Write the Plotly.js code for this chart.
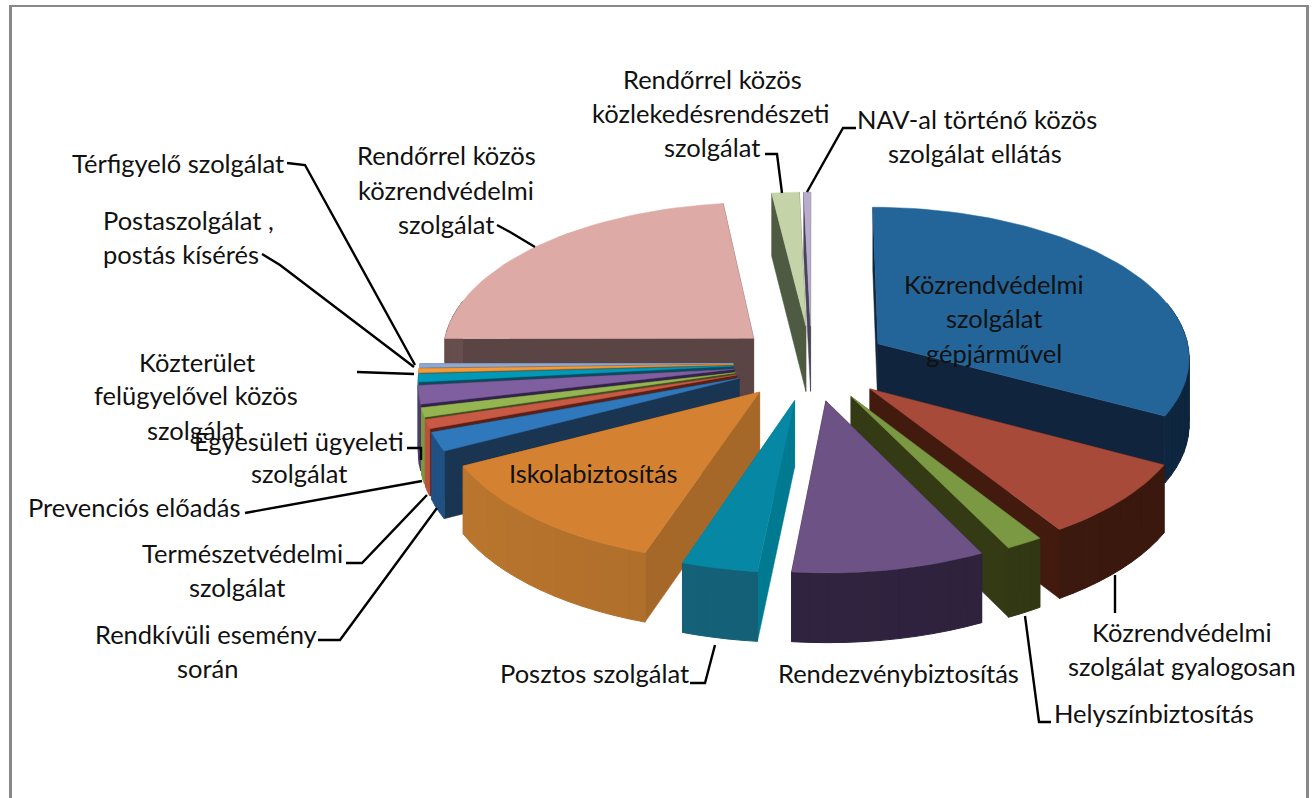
<!DOCTYPE html>
<html><head><meta charset="utf-8">
<script src="https://cdn.plot.ly/plotly-3.0.1.min.js"></script>
<style>html,body{margin:0;padding:0;background:#fff}</style></head>
<body><div id="chart" style="width:1313px;height:798px"></div>
<script>
// ---- data (clockwise from 12 o'clock) ----
var categories = ["Közrendvédelmi szolgálat gépjárművel","Közrendvédelmi szolgálat gyalogosan","Helyszínbiztosítás","Rendezvénybiztosítás","Posztos szolgálat","Iskolabiztosítás","Rendkívüli esemény során","Természetvédelmi szolgálat","Prevenciós előadás","Egyesületi ügyeleti szolgálat","Közterület felügyelővel közös szolgálat","Postaszolgálat , postás kísérés","Térfigyelő szolgálat","Rendőrrel közös közrendvédelmi szolgálat","Rendőrrel közös közlekedésrendészeti szolgálat","NAV-al történő közös szolgálat ellátás"];
var values = [32.78,8.1,1.73,9.0,3.53,12.3,1.98,0.97,0.97,1.94,0.83,0.42,0.42,23.05,1.56,0.39];
// ---- styles ----
var topColors  = ["#236599","#a74a39","#7b9842","#6c5285","#0688a4","#d48232","#2f78bb","#c85a45","#95b550","#7f5f9f","#0099b8","#f59a3a","#8fa8d0","#deaaa5","#c4d4a8","#b8aecb"];
var wallColors = ["#10243d","#421a0e","#333a14","#2e2140","#007a90","#a66828","#193552","#5a2015","#3d5020","#33224a","#0d4a5e","#8a5a20","#556680","#5a4444","#4f5a42","#4a4458"];
var rimColors  = ["#0f2a45","#3f1a0f","#333a14","#30233f","#145f75","#ab6c2a","#1d4a78","#a84a38","#6f8a3a","#4a3560","#0a6a80","#b87028","#6f88a8","#5a4444","#4f5a42","#4a4458"];
var labelLines = [
 ["Közrendvédelmi",994,284],["szolgálat",994,318],["gépjárművel",994,353],
 ["Közrendvédelmi",1182,632],["szolgálat gyalogosan",1182,666],
 ["Helyszínbiztosítás",1154,713],
 ["Rendezvénybiztosítás",898,673],
 ["Posztos szolgálat",594,673],
 ["Iskolabiztosítás",593,473],
 ["Rendkívüli esemény",206,634],["során",207,668],
 ["Természetvédelmi",242,553],["szolgálat",237,587],
 ["Prevenciós előadás",134,507],
 ["Egyesületi ügyeleti",299,441],["szolgálat",299,473],
 ["Közterület",197,362],["felügyelővel közös",196,395],["szolgálat",195,430],
 ["Postaszolgálat ,",188,220],["postás kísérés",181,254],
 ["Térfigyelő szolgálat",178,163],
 ["Rendőrrel közös",446,155],["közrendvédelmi",446,190],["szolgálat",446,224],
 ["Rendőrrel közös",712,79],["közlekedésrendészeti",711,113],["szolgálat",712,147],
 ["NAV-al történő közös",977,119],["szolgálat ellátás",975,153]
];
var leaders = [
 [[287,305,415],[163,165,365]],
 [[262,280,414],[254,265,367]],
 [[357,414],[372,374]],
 [[407,421,421],[448,448,460]],
 [[245,422],[513,481]],
 [[346,362,427],[563,563,495]],
 [[318,340,437],[640,640,508]],
 [[690,705,715],[683,683,645]],
 [[1025,1039,1051],[616,722,722]],
 [[1115,1115],[575,613]],
 [[497,510,535],[225,232,247]],
 [[765,777,782],[154,154,193]],
 [[856,843,807],[128,128,192]]
];
// ---- projection ----
var CX=811.5,CY=363,RX=313,A=151,D=66,P=12,EXPLODE=0.25;
var rad=Math.PI/180;
var total=values.reduce(function(a,b){return a+b;},0);
function shade(hex,f){var n=parseInt(hex.slice(1),16);
 var c=[n>>16,(n>>8)&255,n&255].map(function(v){return Math.max(0,Math.min(255,Math.round(v*f)));});
 return "rgb("+c.join(",")+")";}
var slices=[],acc=0;
values.forEach(function(v,i){var a0=acc/total*360;acc+=v;var a1=acc/total*360;
 slices.push({i:i,a0:a0,a1:a1,m:(a0+a1)/2});});
function pt(s,th,r,z){
 var u=Math.sin(th*rad)*r+EXPLODE*Math.sin(s.m*rad);
 var v=Math.cos(th*rad)*r+EXPLODE*Math.cos(s.m*rad);
 var k=P/(P+v);
 return [CX+RX*u*k, CY-A*v*k+D*z*Math.sqrt(k)];
}
var traces=[];
function poly(pts,color,lw){
 pts=pts.concat([pts[0]]);
 traces.push({type:"scatter",mode:"lines",x:pts.map(function(p){return p[0];}),y:pts.map(function(p){return p[1];}),
  fill:"toself",fillcolor:color,line:{color:color,width:lw},hoverinfo:"skip",showlegend:false});
}
function line(xs,ys){
 traces.push({type:"scatter",mode:"lines",x:xs,y:ys,line:{color:"#000",width:2.4},hoverinfo:"skip",showlegend:false});
}
var order=slices.slice().sort(function(a,b){return Math.cos(b.m*rad)-Math.cos(a.m*rad);});
order.forEach(function(s){
 var w=wallColors[s.i], r=rimColors[s.i];
 poly([pt(s,s.a0,0,0),pt(s,s.a0,1,0),pt(s,s.a0,1,1),pt(s,s.a0,0,1)],w,0.5);
 poly([pt(s,s.a1,0,0),pt(s,s.a1,1,0),pt(s,s.a1,1,1),pt(s,s.a1,0,1)],w,0.5);
 var n=Math.max(1,Math.ceil((s.a1-s.a0)/3));
 for(var j=0;j<n;j++){
  var t0=s.a0+(s.a1-s.a0)*j/n,t1=s.a0+(s.a1-s.a0)*(j+1)/n,tm=(t0+t1)/2;
  if(tm<75||tm>285) continue;
  poly([pt(s,t0,1,0),pt(s,t1,1,0),pt(s,t1,1,1),pt(s,t0,1,1)],shade(r,1+(tm-180)/700),1);
 }
 var top=[pt(s,s.a0,0,0)];
 var m=Math.max(2,Math.ceil((s.a1-s.a0)/2));
 for(var k=0;k<=m;k++) top.push(pt(s,s.a0+(s.a1-s.a0)*k/m,1,0));
 poly(top,topColors[s.i],0.5);
});
leaders.forEach(function(l){line(l[0],l[1]);});

var annotations=labelLines.map(function(l){
 return {text:l[0],x:l[1],y:l[2],xref:"x",yref:"y",showarrow:false,xanchor:"center",yanchor:"middle",
  font:{family:"Lato, Carlito, sans-serif",size:25.5,color:"#111"}};
});
var layout={width:1313,height:798,margin:{l:0,r:0,t:0,b:0},paper_bgcolor:"#fff",plot_bgcolor:"#fff",showlegend:false,
 xaxis:{range:[0,1313],visible:false,fixedrange:true},
 yaxis:{range:[798,0],visible:false,fixedrange:true},
 annotations:annotations,
 shapes:[
  {type:"line",xref:"x",yref:"y",x0:10.5,x1:10.5,y0:5,y1:798,line:{color:"#888",width:3}},
  {type:"line",xref:"x",yref:"y",x0:9,x1:1309,y0:6,y1:6,line:{color:"#888",width:2}},
  {type:"line",xref:"x",yref:"y",x0:1307.5,x1:1307.5,y0:5,y1:798,line:{color:"#888",width:3}}
 ]};
Plotly.newPlot("chart",traces,layout,{displayModeBar:false,staticPlot:true});
</script></body></html>
